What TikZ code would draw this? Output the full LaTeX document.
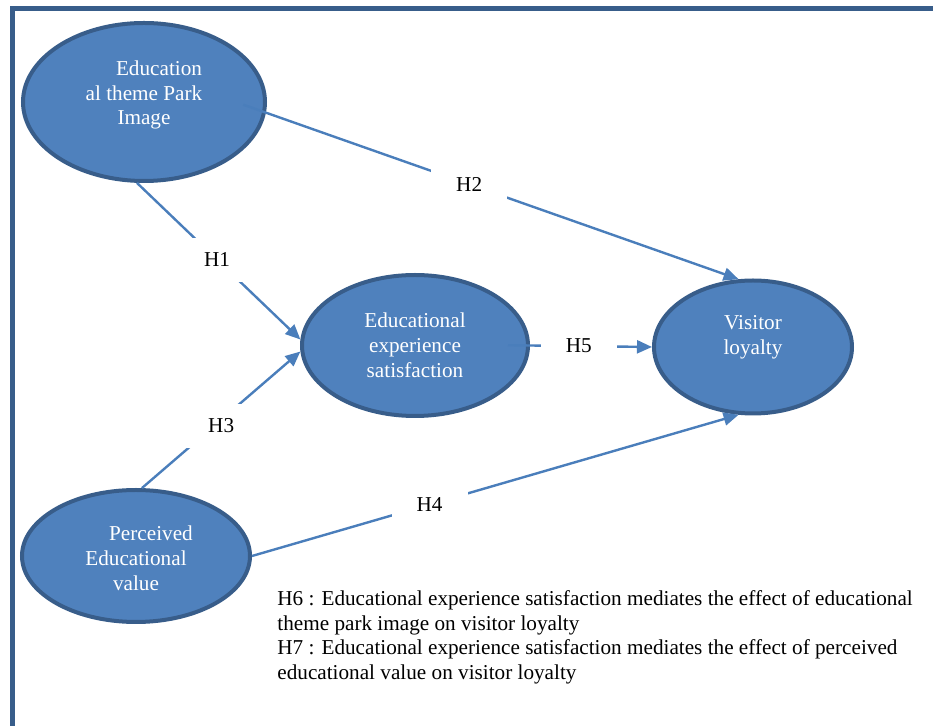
\documentclass[tikz,border=0pt]{standalone}
\usepackage{fontspec}
\setmainfont{Liberation Serif}
\usetikzlibrary{arrows.meta,shapes.geometric}

\definecolor{nodeblue}{HTML}{4F81BD}
\definecolor{edgeblue}{HTML}{385D8A}
\definecolor{lineblue}{HTML}{4A7EBB}

\begin{document}
\begin{tikzpicture}[x=0.5pt, y=-0.5pt,
	construct/.style={ellipse, draw=edgeblue, line width=2pt, fill=nodeblue},
	constructtext/.style={text=white, align=center, inner sep=0pt, font=\fontsize{10.6pt}{12.4pt}\selectfont},
	hyp/.style={fill=white, minimum width=38pt, minimum height=22pt, inner sep=0pt, font=\fontsize{10.6pt}{12.4pt}\selectfont},
	link/.style={draw=lineblue, line width=1.2pt, -{Triangle[length=7.5pt, width=6.5pt]}}]
\useasboundingbox (0,0) rectangle (933,726);

	% frame (only top and left edges show)
	\draw [edgeblue, line width=2.5pt] (933,9) -| (12,726);

	% constructs
	\node[construct, minimum width=121pt, minimum height=79pt] (img) at (144,102) {};
	\node[construct, minimum width=113pt, minimum height=70.5pt] (sat) at (415,345.5) {};
	\node[construct, minimum width=99pt, minimum height=66.5pt] (vis) at (753,347) {};
	\node[construct, minimum width=114pt, minimum height=66pt] (per) at (136,556) {};

	\node[constructtext] (imgtxt) at (144,95) {\hspace*{15pt}Education\\al theme Park\\Image};
	\node[constructtext] (sattxt) at (415,345) {Educational\\experience\\satisfaction};
	\node[constructtext] (vistxt) at (753,337) {Visitor\\loyalty};
	\node[constructtext] (pertxt) at (136,558) {\hspace*{15pt}Perceived\\Educational\\value};

	% hypotheses
	\draw [link] (img.265) -- node[hyp, pos=0.49] (h1) {H1} (sat.177);
	\draw [link, shorten <=-12pt] (img.-5) -- node[hyp, pos=0.43] (h2) {H2} (vis.102);
	\draw [link] (per.85) -- node[hyp, pos=0.5, yshift=-3pt] (h3) {H3} (sat.183);
	\draw [link] (per.east) -- node[hyp, pos=0.365] (h4) {H4} (vis.258);
	\draw [link, shorten <=-11pt] (sat.east) -- node[hyp, pos=0.4] (h5) {H5} (vis.west);

	\node[anchor=north west, align=left, inner sep=0pt, font=\fontsize{10.6pt}{12.4pt}\selectfont] (notes) at (277,590)
		{H6 : Educational experience satisfaction mediates the effect of educational\\
		theme park image on visitor loyalty\\
		H7 : Educational experience satisfaction mediates the effect of perceived\\
		educational value on visitor loyalty};
\end{tikzpicture}
\end{document}
